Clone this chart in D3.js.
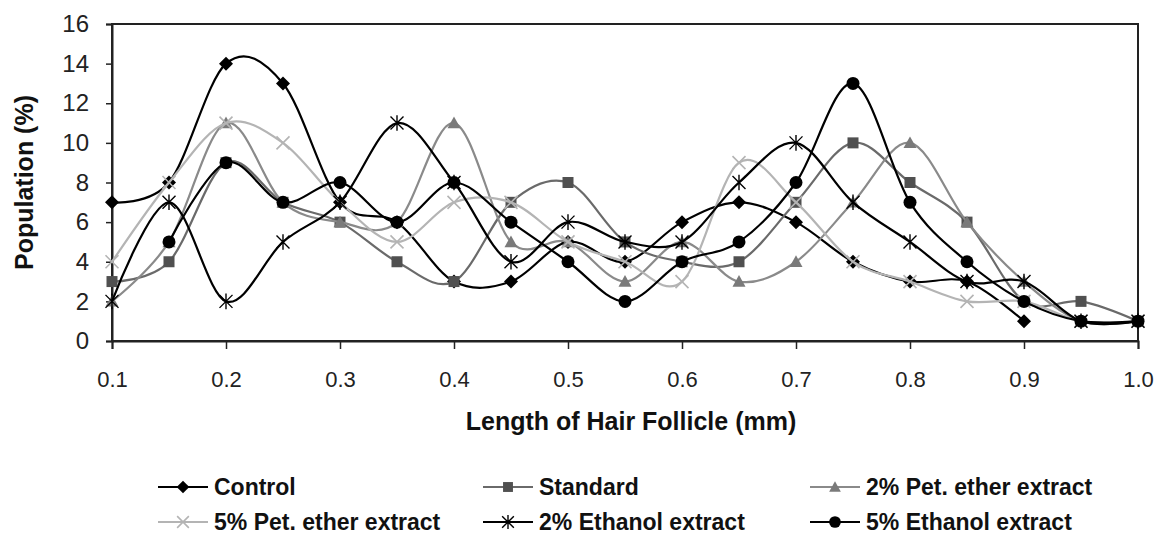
<!DOCTYPE html>
<html>
<head>
<meta charset="utf-8">
<script src="https://cdn.jsdelivr.net/npm/d3@7/dist/d3.min.js"></script>
<style>
  html, body { margin: 0; padding: 0; background: #fff; }
  svg { display: block; }
  text { font-family: "Liberation Sans", Arial, sans-serif; }
</style>
</head>
<body>
<svg id="chart" width="1157" height="537"></svg>
<script>
// ---- data ----
const lengths = [0.1,0.15,0.2,0.25,0.3,0.35,0.4,0.45,0.5,0.55,0.6,0.65,0.7,0.75,0.8,0.85,0.9,0.95,1.0];
const control     = [7,8,14,13,7,6,3,3,5,4,6,7,6,4,3,3,1,null,null];
const standard    = [3,4,9,7,6,4,3,7,8,5,4,4,7,10,8,6,2,2,1];
const pet2        = [2,5,11,7,6,6,11,5,5,3,5,3,4,7,10,6,3,1,1];
const pet5        = [4,8,11,10,7,5,7,7,5,4,3,9,7,4,3,2,2,1,1];
const eth2        = [2,7,2,5,7,11,8,4,6,5,5,8,10,7,5,3,3,1,1];
const eth5        = [null,5,9,7,8,6,8,6,4,2,4,5,8,13,7,4,2,1,1];
const seriesNames = ["Control","Standard","2% Pet. ether extract","5% Pet. ether extract","2% Ethanol extract","5% Ethanol extract"];
const xTicks = [0.1,0.2,0.3,0.4,0.5,0.6,0.7,0.8,0.9,1.0];
const yTicks = [0,2,4,6,8,10,12,14,16];
const xTitle = "Length of Hair Follicle (mm)";
const yTitle = "Population (%)";

const series = [
  {name: seriesNames[0], values: control,  line: "#000000", marker: "diamond",  mfill: "#000000"},
  {name: seriesNames[1], values: standard, line: "#6a6a6a", marker: "square",   mfill: "#505050"},
  {name: seriesNames[2], values: pet2,     line: "#8a8a8a", marker: "triangle", mfill: "#7a7a7a"},
  {name: seriesNames[3], values: pet5,     line: "#b4b4b4", marker: "x",        mfill: "#b4b4b4"},
  {name: seriesNames[4], values: eth2,     line: "#000000", marker: "star",     mfill: "#000000"},
  {name: seriesNames[5], values: eth5,     line: "#000000", marker: "circle",   mfill: "#000000"}
];

// ---- layout ----
const svg = d3.select("#chart");
const L = 112, R = 1138, T = 24, B = 341;
const x = d3.scaleLinear().domain([0.1, 1.0]).range([L, R]);
const y = d3.scaleLinear().domain([0, 16]).range([B, T]);

// frame
svg.append("rect").attr("x", L).attr("y", T).attr("width", R - L).attr("height", B - T)
  .attr("fill", "none").attr("stroke", "#222").attr("stroke-width", 2);

// axes
const yAxis = d3.axisLeft(y).tickValues(yTicks).tickSize(6).tickPadding(17).tickFormat(d3.format("d"));
const gy = svg.append("g").attr("transform", `translate(${L},0)`).call(yAxis);
gy.select(".domain").attr("stroke", "#222").attr("stroke-width", 2);
gy.selectAll(".tick line").attr("stroke", "#222").attr("stroke-width", 1.5);
gy.selectAll(".tick text").attr("font-size", 24).attr("fill", "#222");

const xAxis = d3.axisBottom(x).tickValues(xTicks).tickSize(8).tickPadding(22).tickFormat(d3.format(".1f"));
const gx = svg.append("g").attr("transform", `translate(0,${B})`).call(xAxis);
gx.select(".domain").attr("stroke", "#222").attr("stroke-width", 2);
gx.selectAll(".tick line").attr("stroke", "#222").attr("stroke-width", 1.5);
gx.selectAll(".tick text").attr("font-size", 22).attr("fill", "#222");

// titles
svg.append("text").attr("x", 631).attr("y", 430).attr("text-anchor", "middle")
  .attr("font-size", 25).attr("font-weight", "bold").attr("fill", "#111").text(xTitle);
svg.append("text").attr("transform", `translate(33,${(T + B) / 2}) rotate(-90)`)
  .attr("text-anchor", "middle").attr("font-size", 25).attr("font-weight", "bold").attr("fill", "#111").text(yTitle);

// marker drawing
function drawMarker(g, type, cx, cy, color, scale) {
  const s = scale || 1;
  if (type === "diamond") {
    const r = 7 * s;
    g.append("path").attr("d", `M${cx},${cy - r}L${cx + r},${cy}L${cx},${cy + r}L${cx - r},${cy}Z`).attr("fill", color);
  } else if (type === "square") {
    const h = 5.5 * s;
    g.append("rect").attr("x", cx - h).attr("y", cy - h).attr("width", 2 * h).attr("height", 2 * h).attr("fill", color);
  } else if (type === "triangle") {
    const h = 6.5 * s;
    g.append("path").attr("d", `M${cx},${cy - h}L${cx + h},${cy + h * 0.8}L${cx - h},${cy + h * 0.8}Z`).attr("fill", color);
  } else if (type === "x") {
    const h = 6.5 * s;
    g.append("path").attr("d", `M${cx - h},${cy - h}L${cx + h},${cy + h}M${cx - h},${cy + h}L${cx + h},${cy - h}`)
      .attr("stroke", color).attr("stroke-width", 1.6).attr("fill", "none");
  } else if (type === "star") {
    const h = 6.5 * s;
    g.append("path").attr("d", `M${cx - h},${cy - h}L${cx + h},${cy + h}M${cx - h},${cy + h}L${cx + h},${cy - h}M${cx},${cy - h * 1.2}L${cx},${cy + h * 1.2}`)
      .attr("stroke", color).attr("stroke-width", 1.4).attr("fill", "none");
  } else if (type === "circle") {
    g.append("circle").attr("cx", cx).attr("cy", cy).attr("r", 6.5 * s).attr("fill", color);
  }
}

// series
const line = d3.line()
  .defined(d => d.v != null)
  .x(d => x(d.x)).y(d => y(d.v))
  .curve(d3.curveCardinal.tension(0));

const plot = svg.append("g");
series.forEach(s => {
  const pts = lengths.map((lx, i) => ({x: lx, v: s.values[i]}));
  const g = plot.append("g");
  g.append("path").attr("d", line(pts)).attr("fill", "none").attr("stroke", s.line).attr("stroke-width", 2.2);
  pts.filter(p => p.v != null).forEach(p => drawMarker(g, s.marker, x(p.x), y(p.v), s.mfill));
});

// legend
const legCols = [158, 483, 810];
const legRows = [487, 522];
series.forEach((s, i) => {
  const lx = legCols[i % 3], ly = legRows[Math.floor(i / 3)];
  const g = svg.append("g");
  g.append("line").attr("x1", lx).attr("x2", lx + 50).attr("y1", ly).attr("y2", ly)
    .attr("stroke", s.line).attr("stroke-width", 2.2);
  drawMarker(g, s.marker, lx + 25, ly, s.mfill, 0.9);
  g.append("text").attr("x", lx + 56).attr("y", ly).attr("dy", "0.36em")
    .attr("font-size", 23).attr("font-weight", "bold").attr("fill", "#111").text(s.name);
});
</script>
</body>
</html>
